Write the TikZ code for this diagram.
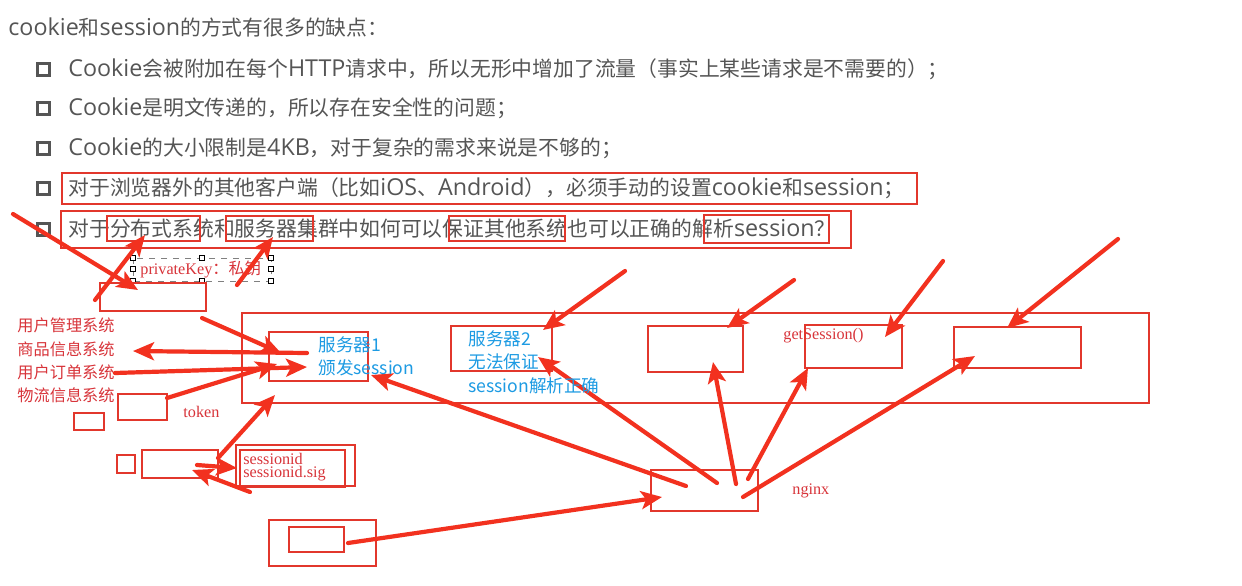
\documentclass[tikz,border=0pt]{standalone}
\usepackage{fontspec}
\setmainfont{Noto Sans CJK SC}
\newfontfamily\cjk{Noto Sans CJK SC}
\newfontfamily\lat[Scale=1.12]{Open Sans}
\newfontfamily\tnr{Liberation Serif}
\newcommand{\latw}[1]{{\lat #1}}
\usetikzlibrary{arrows.meta}
\definecolor{boxred}{HTML}{E2372C}
\definecolor{arrred}{HTML}{F2311F}
\definecolor{txtred}{HTML}{D8343A}
\definecolor{txtblue}{HTML}{1D9BE3}
\definecolor{txtgray}{HTML}{555555}
\tikzset{
  rbox/.style={draw=boxred,line width=1pt},
  rarrow/.style={draw=arrred,line width=2.1pt,line cap=round,-{Stealth[length=10.5pt,width=9pt,inset=2.5pt]}},
  maintext/.style={anchor=west,inner sep=0pt,text=txtgray,font=\cjk\fontsize{10.4pt}{12pt}\selectfont},
  redcjk/.style={anchor=west,inner sep=0pt,text=txtred,font=\cjk\fontsize{8.1pt}{10pt}\selectfont},
  redserif/.style={anchor=west,inner sep=0pt,text=txtred,font=\tnr\fontsize{8.1pt}{10pt}\selectfont},
  bluetext/.style={anchor=west,inner sep=0pt,text=txtblue,font=\cjk\fontsize{8.8pt}{10pt}\selectfont},
  bulletbox/.style={draw=txtgray,line width=1.5pt,minimum size=6pt,inner sep=0pt},
  handle/.style={draw=black,fill=white,line width=0.3pt,minimum size=2.6pt,inner sep=0pt}
}
\begin{document}
\begin{tikzpicture}[x=0.5pt,y=-0.5pt]
\useasboundingbox (0,0) rectangle (1242,585);
\fill[white] (0,0) rectangle (1242,585);

% main text
\node[maintext] (title) at (8,27) {\latw{cookie}和\latw{session}的方式有很多的缺点：};
\foreach \yy/\nm in {69/b1,108/b2,148/b3,188/b4,229/b5}{
  \node[bulletbox] (\nm) at (43,\yy) {};
}
\node[maintext] (l1) at (68,69) {\latw{Cookie}会被附加在每个\latw{HTTP}请求中，所以无形中增加了流量（事实上某些请求是不需要的）；};
\node[maintext] (l2) at (68,108) {\latw{Cookie}是明文传递的，所以存在安全性的问题；};
\node[maintext] (l3) at (68,148) {\latw{Cookie}的大小限制是\latw{4KB}，对于复杂的需求来说是不够的；};
\node[maintext] (l4) at (68,188) {对于浏览器外的其他客户端（比如\latw{iOS}、\latw{Android}），必须手动的设置\latw{cookie}和\latw{session}；};
\node[maintext] (l5) at (68,229) {对于分布式系统和服务器集群中如何可以保证其他系统也可以正确的解析\latw{session}？};

% privateKey box
\draw[gray,dashed,line width=0.5pt] (133,258) rectangle (271,281);
\node[redserif] (pk) at (140,269) {privateKey{\cjk：私钥}};
\foreach \hx/\hy in {133/258,202/258,271/258,133/269,271/269,133/281,202/281,271/281}{
  \node[handle] at (\hx,\hy) {};
}

% left labels
\node[redcjk] (u1) at (17,325) {用户管理系统};
\node[redcjk] (u2) at (17,349) {商品信息系统};
\node[redcjk] (u3) at (17,372) {用户订单系统};
\node[redcjk] (u4) at (17,395) {物流信息系统};
\node[redserif] (tok) at (183,412) {token};
\node[redserif] (sid1) at (243,459) {sessionid};
\node[redserif] (sid2) at (243,474) {sessionid.sig};
\node[redserif] (ngx) at (792,491) {nginx};
\node[redserif] (gs) at (783,336) {getSession()};

% boxes
\draw[rbox] (62,173) rectangle (917,204);
\draw[rbox] (61,211) rectangle (851,248);
\draw[rbox] (107,216) rectangle (200,241);
\draw[rbox] (226,216) rectangle (313,241);
\draw[rbox] (449,216) rectangle (565,241);
\draw[rbox] (704,215) rectangle (829,243);
\draw[rbox] (100,283) rectangle (206,311);
\draw[rbox] (242,313) rectangle (1149,403);
\draw[rbox] (269,332) rectangle (368,381);
\draw[rbox] (451,326) rectangle (552,371);
\draw[rbox] (648,326) rectangle (743,372);
\draw[rbox] (805,325) rectangle (902,368);
\draw[rbox] (954,327) rectangle (1081,368);
\draw[rbox] (118,394) rectangle (167,420);
\draw[rbox] (74,413) rectangle (104,430);
\draw[rbox] (117,455) rectangle (135,473);
\draw[rbox] (142,450) rectangle (218,478);
\draw[rbox] (236,445) rectangle (355,486);
\draw[rbox] (240,450) rectangle (345,487);
\draw[rbox] (269,520) rectangle (376,566);
\draw[rbox] (289,527) rectangle (344,552);
\draw[rbox] (651,470) rectangle (758,511);

% connector end points
\coordinate (a1s) at (13,214);   \coordinate (a1e) at (138,290);
\coordinate (a2s) at (95,300);   \coordinate (a2e) at (145,235);
\coordinate (a3s) at (237,285);  \coordinate (a3e) at (273,237);
\coordinate (a4s) at (202,318);  \coordinate (a4e) at (281,353);
\coordinate (a5s) at (307,353);  \coordinate (a5e) at (133,351);
\coordinate (a6s) at (115,373);  \coordinate (a6e) at (307,367);
\coordinate (a7s) at (167,398);  \coordinate (a7e) at (277,364);
\coordinate (a8s) at (218,458);  \coordinate (a8e) at (275,395);
\coordinate (a9s) at (197,465);  \coordinate (a9e) at (237,468);
\coordinate (a10s) at (250,492); \coordinate (a10e) at (192,470);
\coordinate (a11s) at (348,543); \coordinate (a11e) at (662,497);
\coordinate (a12s) at (686,486); \coordinate (a12e) at (371,375);
\coordinate (a13s) at (717,483); \coordinate (a13e) at (538,357);
\coordinate (a14s) at (736,484); \coordinate (a14e) at (713,362);
\coordinate (a15s) at (748,479); \coordinate (a15e) at (808,368);
\coordinate (a16s) at (743,497); \coordinate (a16e) at (975,356);
\coordinate (a17s) at (625,271); \coordinate (a17e) at (543,330);
\coordinate (a18s) at (794,280); \coordinate (a18e) at (727,328);
\coordinate (a19s) at (943,261); \coordinate (a19e) at (885,337);
\coordinate (a20s) at (1118,239);\coordinate (a20e) at (1007,328);

\foreach \k in {1,2,...,20}{
  \draw[rarrow] (a\k s) -- (a\k e);
}

% blue text
\node[bluetext] (sv1a) at (318,345) {服务器1};
\node[bluetext] (sv1b) at (318,368) {颁发session};
\node[bluetext] (sv2a) at (468,339) {服务器2};
\node[bluetext] (sv2b) at (468,362) {无法保证};
\node[bluetext] (sv2c) at (468,386) {session解析正确};
\end{tikzpicture}
\end{document}
